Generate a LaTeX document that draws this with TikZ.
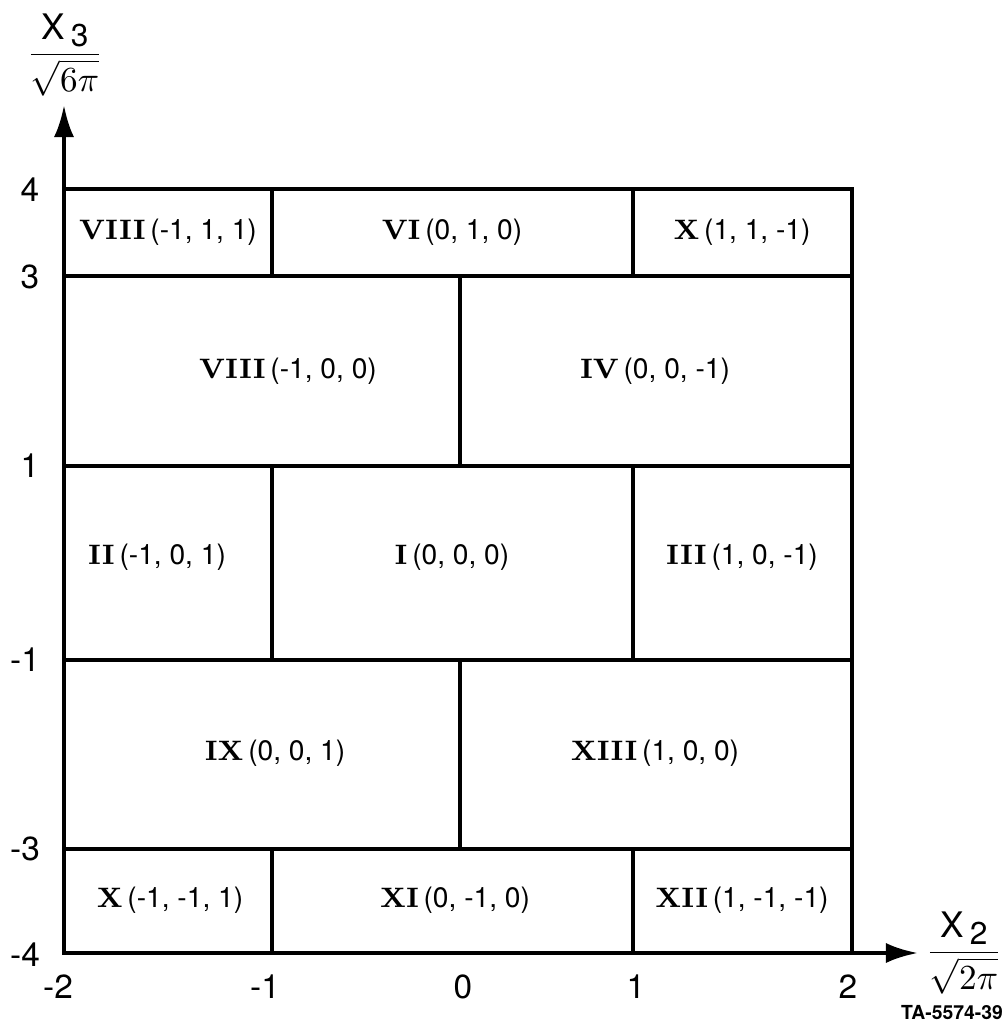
\documentclass[tikz,border=0pt]{standalone}
\usepackage{fontspec}
\usepackage{amsmath}
\setsansfont{TeX Gyre Heros}
\usetikzlibrary{arrows.meta}
\newcommand{\reg}[2]{\textbf{\rmfamily #1}\,#2}

\begin{document}
\begin{tikzpicture}[x=0.01cm,y=-0.01cm,
        cell/.style={draw=black,line width=0.9pt},
        axis/.style={line width=1.2pt,-{Latex[length=0.32cm,width=0.2cm]}},
        lab/.style={font=\sffamily\fontsize{8}{10}\selectfont,inner sep=1pt},
        tick/.style={font=\sffamily\fontsize{9.5}{10}\selectfont,inner sep=1pt},
        frac/.style={font=\sffamily\fontsize{10}{12}\selectfont,inner sep=0pt}
      ]
        \useasboundingbox (0,0) rectangle (1003,1023);
        % grid of regions
        \draw[cell] (64,189) rectangle (852,953);
        \draw[cell] (64,276) -- (852,276);
        \draw[cell] (64,466) -- (852,466);
        \draw[cell] (64,660) -- (852,660);
        \draw[cell] (64,849) -- (852,849);
        \draw[cell] (272,189) -- (272,276); \draw[cell] (633,189) -- (633,276);
        \draw[cell] (460,276) -- (460,466);
        \draw[cell] (272,466) -- (272,660); \draw[cell] (633,466) -- (633,660);
        \draw[cell] (460,660) -- (460,849);
        \draw[cell] (272,849) -- (272,953); \draw[cell] (633,849) -- (633,953);
        % axes
        \coordinate (O) at (64,953);
        \coordinate (Ytip) at (64,105);
        \coordinate (Xtip) at (918,953);
        \draw[axis] (O) -- (Ytip);
        \draw[axis] (O) -- (Xtip);
        \node[frac] (ylab) at (65,55) {$\dfrac{\text{X}\,\raisebox{-0.4ex}{\small 3}}{\sqrt{6\pi}}$};
        \node[frac] (xlab) at (964,953) {$\dfrac{\text{X}\,\raisebox{-0.4ex}{\small 2}}{\sqrt{2\pi}}$};
        % region labels
        \node[lab] (r8a) at (168,232) {\reg{VIII}{(-1, 1, 1)}};
        \node[lab] (r6) at (452,232) {\reg{VI}{(0, 1, 0)}};
        \node[lab] (r10a) at (742,232) {\reg{X}{(1, 1, -1)}};
        \node[lab] (r8b) at (288,371) {\reg{VIII}{(-1, 0, 0)}};
        \node[lab] (r4) at (655,371) {\reg{IV}{(0, 0, -1)}};
        \node[lab] (r2) at (157,557) {\reg{II}{(-1, 0, 1)}};
        \node[lab] (r1) at (452,557) {\reg{I}{(0, 0, 0)}};
        \node[lab] (r3) at (742,557) {\reg{III}{(1, 0, -1)}};
        \node[lab] (r9) at (275,753) {\reg{IX}{(0, 0, 1)}};
        \node[lab] (r13) at (655,753) {\reg{XIII}{(1, 0, 0)}};
        \node[lab] (r10b) at (170,900) {\reg{X}{(-1, -1, 1)}};
        \node[lab] (r11) at (455,900) {\reg{XI}{(0, -1, 0)}};
        \node[lab] (r12) at (742,900) {\reg{XII}{(1, -1, -1)}};
        % ticks
        \node[tick] (y4) at (30,190) {4};
        \node[tick] (y3) at (30,277) {3};
        \node[tick] (y1) at (30,466) {1};
        \node[tick] (ym1) at (25,660) {-1};
        \node[tick] (ym3) at (25,849) {-3};
        \node[tick] (ym4) at (25,955) {-4};
        \node[tick] (xm2) at (58,987) {-2};
        \node[tick] (xm1) at (265,987) {-1};
        \node[tick] (x0) at (463,987) {0};
        \node[tick] (x1) at (636,987) {1};
        \node[tick] (x2) at (848,987) {2};
        \node[font=\sffamily\bfseries\fontsize{5.5}{7}\selectfont,inner sep=0pt] (ta) at (952,1013) {TA-5574-39};
      \end{tikzpicture}
\end{document}
